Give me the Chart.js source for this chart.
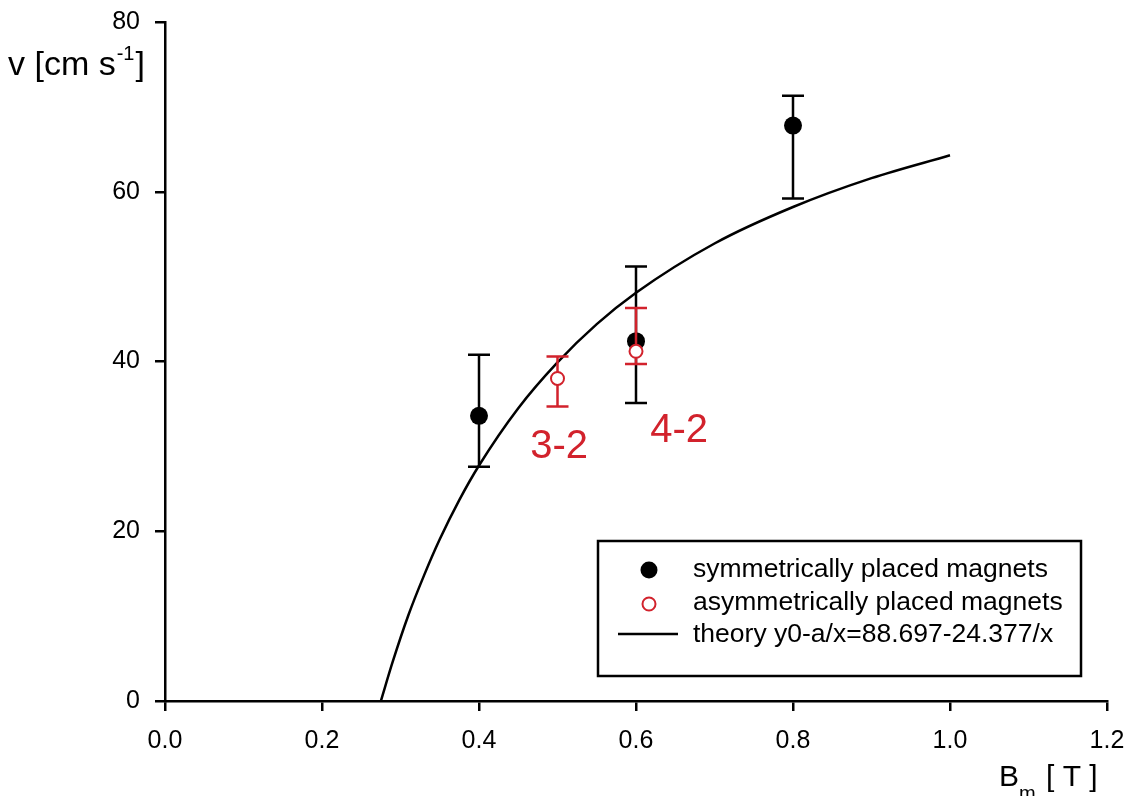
<!DOCTYPE html>
<html>
<head>
<meta charset="utf-8">
<script src="https://cdn.jsdelivr.net/npm/chart.js@4/dist/chart.umd.min.js"></script>
<style>
  body { margin: 0; background: #fff; }
  #wrap { width: 1132px; height: 796px; }
</style>
</head>
<body>
<div id="wrap"><canvas id="chart"></canvas></div>
<script>
const symX = [0.4, 0.6, 0.8];
const symY = [33.6, 42.4, 67.8];
const symLow = [27.6, 35.1, 59.2];
const symHigh = [40.8, 51.2, 71.3];

const asymX = [0.5, 0.6];
const asymY = [38.0, 41.2];
const asymLow = [34.7, 39.7];
const asymHigh = [40.6, 46.3];

// theory curve y0-a/x, sampled from the plotted line
const theoryX = [0.275, 0.29, 0.31, 0.33, 0.35, 0.375, 0.4, 0.45, 0.5, 0.55, 0.6, 0.7, 0.8, 0.9, 1.0];
const theoryY = [0.0, 4.6, 10.1, 14.8, 19.05, 23.7, 27.75, 34.5, 39.9, 44.4, 48.1, 53.9, 58.2, 61.6, 64.3];

const xTicks = [0.0, 0.2, 0.4, 0.6, 0.8, 1.0, 1.2];
const yTicks = [0, 20, 40, 60, 80];

const noteText = ["3-2", "4-2"];
const noteX = [0.502, 0.655];
const noteY = [29.9, 31.8];

const legendLabels = [
  "symmetrically placed magnets",
  "asymmetrically placed magnets",
  "theory y0-a/x=88.697-24.377/x",
];

const RED = "#d2222c";
const FONT = "'Liberation Sans', Arial, sans-serif";

const toPoints = (xs, ys) => xs.map((x, i) => ({ x: x, y: ys[i] }));

const errorBars = {
  id: "errorBars",
  beforeDatasetDraw(chart, args) {
    const ds = chart.data.datasets[args.index];
    if (!ds.errLow) return;
    const { ctx, scales: { x, y } } = chart;
    ctx.save();
    ctx.strokeStyle = ds.barColor;
    ctx.lineWidth = 2.5;
    ds.data.forEach((p, i) => {
      const px = x.getPixelForValue(p.x);
      const lo = y.getPixelForValue(ds.errLow[i]);
      const hi = y.getPixelForValue(ds.errHigh[i]);
      ctx.beginPath();
      ctx.moveTo(px, lo);
      ctx.lineTo(px, hi);
      ctx.moveTo(px - 11, lo);
      ctx.lineTo(px + 11, lo);
      ctx.moveTo(px - 11, hi);
      ctx.lineTo(px + 11, hi);
      ctx.stroke();
    });
    ctx.restore();
  },
};

const extras = {
  id: "extras",
  afterDraw(chart) {
    const { ctx, scales: { x, y } } = chart;
    ctx.save();
    ctx.fillStyle = "#000";
    ctx.textBaseline = "alphabetic";
    ctx.textAlign = "left";

    // y axis title: v [cm s^-1]
    ctx.font = "34px " + FONT;
    let tx = 8;
    ctx.fillText("v [cm s", tx, 75);
    tx += ctx.measureText("v [cm s").width + 1;
    ctx.font = "20px " + FONT;
    ctx.fillText("-1", tx, 60);
    tx += ctx.measureText("-1").width + 1;
    ctx.font = "34px " + FONT;
    ctx.fillText("]", tx, 75);

    // x axis title: B_m [ T ]
    ctx.font = "30px " + FONT;
    ctx.fillText("B", 999, 786);
    ctx.font = "20px " + FONT;
    ctx.fillText("m", 1019, 800);
    ctx.font = "30px " + FONT;
    ctx.fillText("[ T ]", 1046, 786);

    // red notes
    ctx.fillStyle = RED;
    ctx.font = "40px " + FONT;
    ctx.textAlign = "center";
    ctx.textBaseline = "middle";
    noteText.forEach((t, i) => {
      ctx.fillText(t, x.getPixelForValue(noteX[i]), y.getPixelForValue(noteY[i]));
    });

    // legend box
    ctx.strokeStyle = "#000";
    ctx.lineWidth = 2.5;
    ctx.fillStyle = "#fff";
    ctx.fillRect(598, 541, 483, 135);
    ctx.strokeRect(598, 541, 483, 135);

    const marks = [570, 604, 634];
    const bases = [577, 610, 642];
    ctx.beginPath();
    ctx.fillStyle = "#000";
    ctx.arc(649, marks[0], 8.5, 0, Math.PI * 2);
    ctx.fill();
    ctx.beginPath();
    ctx.lineWidth = 2;
    ctx.strokeStyle = RED;
    ctx.arc(649, marks[1], 6.5, 0, Math.PI * 2);
    ctx.stroke();
    ctx.beginPath();
    ctx.lineWidth = 2.5;
    ctx.strokeStyle = "#000";
    ctx.moveTo(618, marks[2]);
    ctx.lineTo(678, marks[2]);
    ctx.stroke();

    ctx.fillStyle = "#000";
    ctx.font = "26.5px " + FONT;
    ctx.textAlign = "left";
    ctx.textBaseline = "alphabetic";
    legendLabels.forEach((t, i) => ctx.fillText(t, 693, bases[i]));
    ctx.restore();
  },
};

Chart.defaults.font.family = FONT;
Chart.defaults.color = "#000";

const axisGrid = () => ({
  drawOnChartArea: false,
  drawTicks: true,
  tickLength: 10,
  color: "#000",
  lineWidth: 2.5,
});

new Chart(document.getElementById("chart"), {
  type: "scatter",
  data: {
    datasets: [
      {
        label: legendLabels[1],
        data: toPoints(asymX, asymY),
        errLow: asymLow,
        errHigh: asymHigh,
        barColor: RED,
        pointRadius: 6.5,
        pointBackgroundColor: "#fff",
        pointBorderColor: RED,
        pointBorderWidth: 2,
      },
      {
        label: legendLabels[0],
        data: toPoints(symX, symY),
        errLow: symLow,
        errHigh: symHigh,
        barColor: "#000",
        pointRadius: 9,
        pointBackgroundColor: "#000",
        pointBorderColor: "#000",
        pointBorderWidth: 0,
      },
      {
        label: legendLabels[2],
        data: toPoints(theoryX, theoryY),
        showLine: true,
        borderColor: "#000",
        borderWidth: 2.5,
        pointRadius: 0,
        cubicInterpolationMode: "monotone",
      },
    ],
  },
  options: {
    responsive: true,
    maintainAspectRatio: false,
    animation: false,
    layout: {
      padding: { top: 22, right: 25, left: 0, bottom: 0 },
    },
    plugins: {
      legend: { display: false },
      tooltip: { enabled: false },
    },
    scales: {
      x: {
        type: "linear",
        min: 0,
        max: 1.2,
        afterFit: (scale) => {
          scale.height = 95;
          scale.paddingLeft = 0;
          scale.paddingRight = 0;
        },
        afterBuildTicks: (scale) => { scale.ticks = xTicks.map((v) => ({ value: v })); },
        ticks: {
          padding: 15,
          font: { size: 25 },
          callback: (v) => Number(v).toFixed(1),
        },
        grid: axisGrid(),
        border: { display: true, color: "#000", width: 2.5 },
      },
      y: {
        type: "linear",
        min: 0,
        max: 80,
        afterFit: (scale) => {
          scale.width = 165;
          scale.paddingTop = 0;
          scale.paddingBottom = 0;
        },
        afterBuildTicks: (scale) => { scale.ticks = yTicks.map((v) => ({ value: v })); },
        ticks: {
          padding: 15,
          font: { size: 25 },
        },
        grid: axisGrid(),
        border: { display: true, color: "#000", width: 2.5 },
      },
    },
  },
  plugins: [errorBars, extras],
});
</script>
</body>
</html>
